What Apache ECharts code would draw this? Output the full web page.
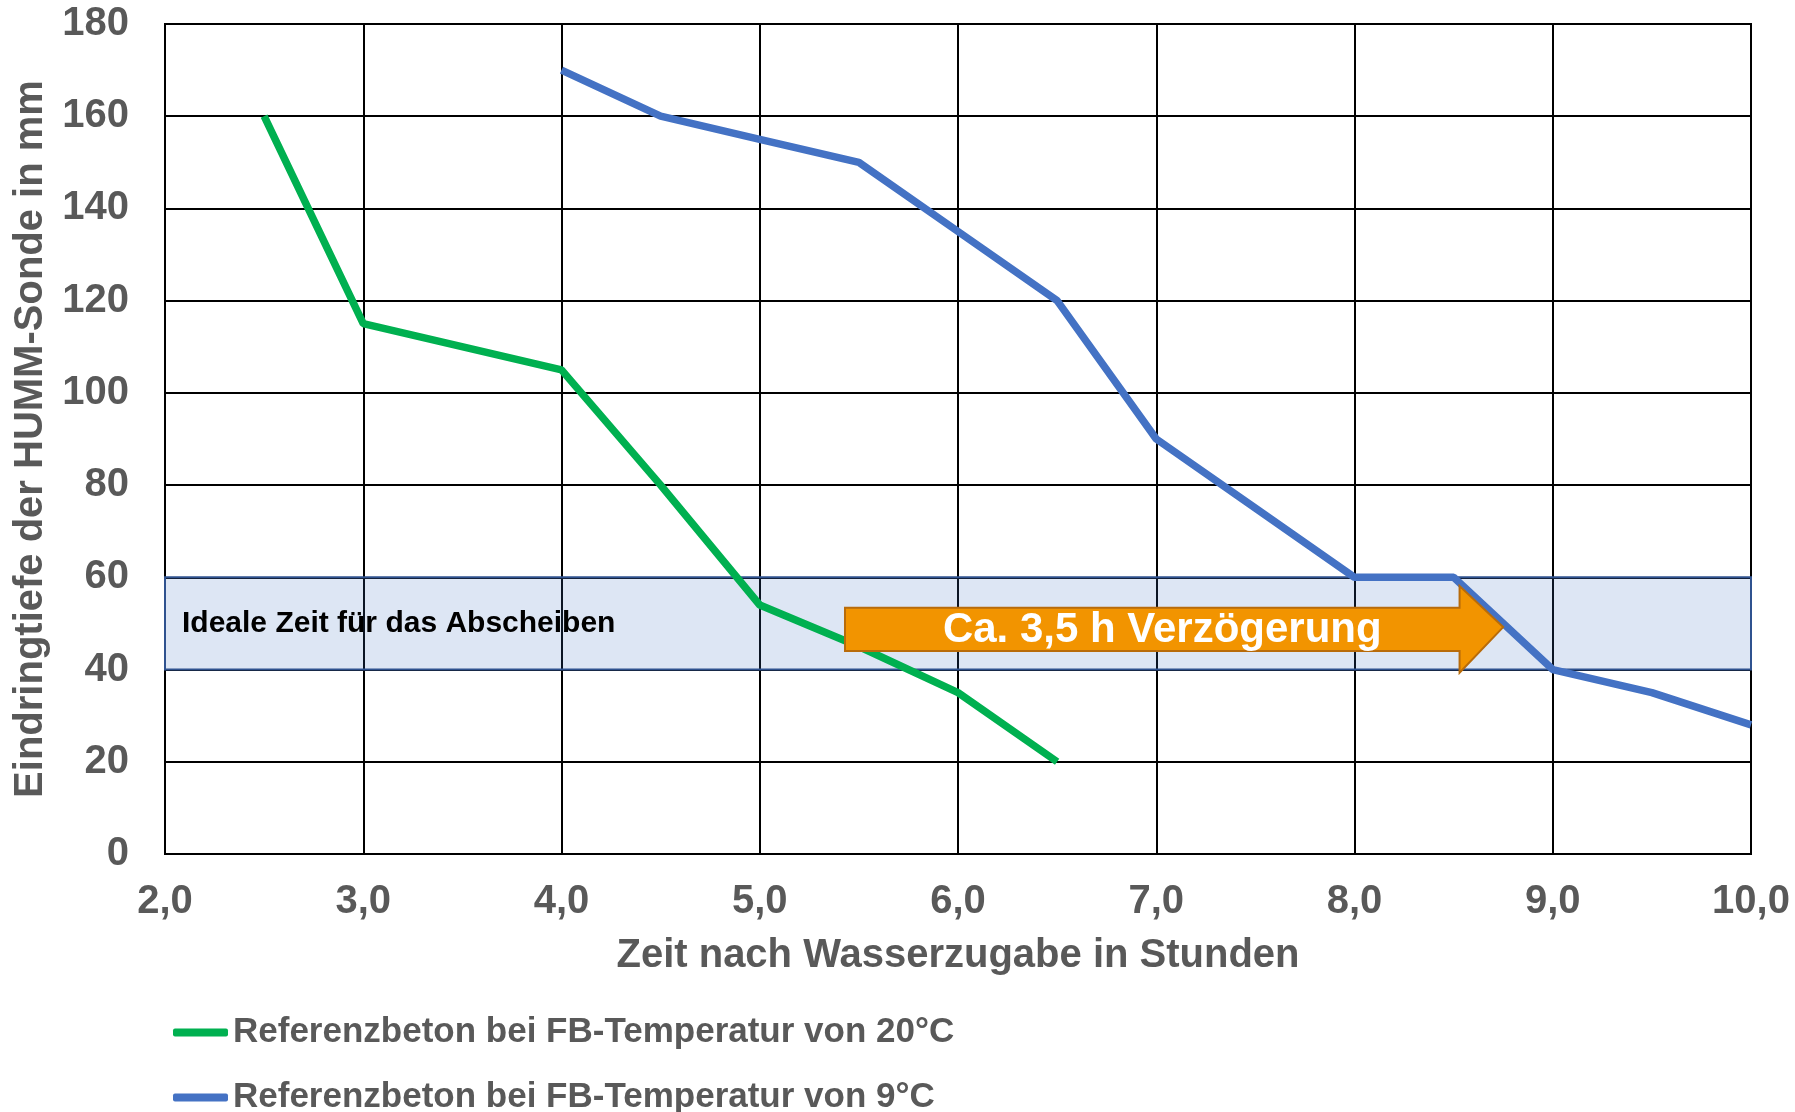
<!DOCTYPE html>
<html>
<head>
<meta charset="utf-8">
<script src="https://cdn.jsdelivr.net/npm/echarts@6/dist/echarts.min.js"></script>
<style>
  html, body { margin: 0; padding: 0; background: #fff; }
  #chart { width: 1795px; height: 1112px; }
</style>
</head>
<body>
<div id="chart"></div>
<script>
const greenHours = [2.5, 3, 4, 4.5, 5, 5.5, 6, 6.5]
const greenDepth = [160, 115, 105, 80, 54, 45, 35, 20]
const blueHours = [4, 4.5, 5, 5.5, 6, 6.5, 7, 7.5, 8, 8.5, 9, 9.5, 10]
const blueDepth = [170, 160, 155, 150, 135, 120, 90, 75, 60, 60, 40, 35, 28]
const greenName = 'Referenzbeton bei FB-Temperatur von 20°C'
const blueName = 'Referenzbeton bei FB-Temperatur von 9°C'

// Bereich "ideale Zeit" und Pfeil (in Achsenwerten)
const idealBand = [40, 60]
const arrowX = [5.43, 8.53, 8.75] // start, head base, tip
const arrowY = [44, 53.4, 39.3, 58.1, 49.2] // body low, body high, head low, head high, tip

const font = 'Liberation Sans, Arial, sans-serif'
const grey = '#595959'

const chart = echarts.init(document.getElementById('chart'))

const legendBase = {
  orient: 'vertical',
  left: 168,
  itemWidth: 55,
  itemHeight: 8,
  icon: 'roundRect',
  textStyle: {
    fontSize: 35,
    fontWeight: 'bold',
    color: grey,
    fontFamily: font
  }
}

chart.setOption({
  textStyle: { fontFamily: font },
  grid: {
    left: 165,
    right: 44,
    top: 24,
    bottom: 258,
    show: true,
    borderColor: '#000',
    borderWidth: 2
  },
  legend: [
    Object.assign({}, legendBase, { top: 1010, data: [greenName] }),
    Object.assign({}, legendBase, { top: 1075, data: [blueName] })
  ],
  xAxis: {
    type: 'value',
    min: 2,
    max: 10,
    interval: 1,
    name: 'Zeit nach Wasserzugabe in Stunden',
    nameLocation: 'middle',
    nameGap: 82,
    nameTextStyle: { fontSize: 40, fontWeight: 'bold', color: grey },
    axisLine: { lineStyle: { color: '#000', width: 2 } },
    axisTick: { show: false },
    axisLabel: {
      fontSize: 40,
      fontWeight: 'bold',
      color: grey,
      margin: 28,
      formatter: v => v.toFixed(1).replace('.', ',')
    },
    splitLine: { lineStyle: { color: '#000', width: 2 } }
  },
  yAxis: {
    type: 'value',
    min: 0,
    max: 180,
    interval: 20,
    name: 'Eindringtiefe der HUMM-Sonde in mm',
    nameLocation: 'middle',
    nameGap: 113,
    nameTextStyle: { fontSize: 40, fontWeight: 'bold', color: grey },
    axisLine: { show: true, lineStyle: { color: '#000', width: 2 } },
    axisTick: { show: false },
    axisLabel: {
      fontSize: 40,
      fontWeight: 'bold',
      color: grey,
      margin: 36
    },
    splitLine: { lineStyle: { color: '#000', width: 2 } }
  },
  series: [
    {
      name: 'band',
      type: 'line',
      data: [],
      z: 1,
      silent: true,
      markArea: {
        silent: true,
        itemStyle: {
          color: 'rgba(68,114,196,0.18)',
          borderColor: '#2F528F',
          borderWidth: 2
        },
        label: {
          show: true,
          position: 'insideLeft',
          distance: 18,
          color: '#000',
          fontSize: 30,
          fontWeight: 'bold',
          fontFamily: font
        },
        data: [[
          { name: 'Ideale Zeit für das Abscheiben', yAxis: idealBand[0] },
          { yAxis: idealBand[1] }
        ]]
      }
    },
    {
      name: greenName,
      type: 'line',
      z: 3,
      symbol: 'none',
      color: '#00B050',
      lineStyle: { width: 7.5, color: '#00B050' },
      data: greenHours.map((h, i) => [h, greenDepth[i]])
    },
    {
      name: blueName,
      type: 'line',
      z: 3,
      symbol: 'none',
      color: '#4472C4',
      lineStyle: { width: 7.5, color: '#4472C4' },
      data: blueHours.map((h, i) => [h, blueDepth[i]])
    },
    {
      name: 'arrow',
      type: 'custom',
      z: 4,
      silent: true,
      clip: false,
      data: [[arrowX[0], arrowY[0]]],
      renderItem: (params, api) => {
        const p = (x, y) => api.coord([x, y])
        const pts = [
          p(arrowX[0], arrowY[1]),
          p(arrowX[1], arrowY[1]),
          p(arrowX[1], arrowY[3]),
          p(arrowX[2], arrowY[4]),
          p(arrowX[1], arrowY[2]),
          p(arrowX[1], arrowY[0]),
          p(arrowX[0], arrowY[0])
        ]
        const mid = p((arrowX[0] + arrowX[1]) / 2, arrowY[4])
        return {
          type: 'group',
          children: [
            {
              type: 'polygon',
              shape: { points: pts },
              style: { fill: '#F29400', stroke: '#B86B0A', lineWidth: 2 }
            },
            {
              type: 'text',
              x: mid[0] + 10,
              y: mid[1] + 3,
              style: {
                text: 'Ca. 3,5 h Verzögerung',
                fill: '#fff',
                font: 'bold 42px ' + font,
                align: 'center',
                verticalAlign: 'middle'
              }
            }
          ]
        }
      }
    }
  ]
})
</script>
</body>
</html>
